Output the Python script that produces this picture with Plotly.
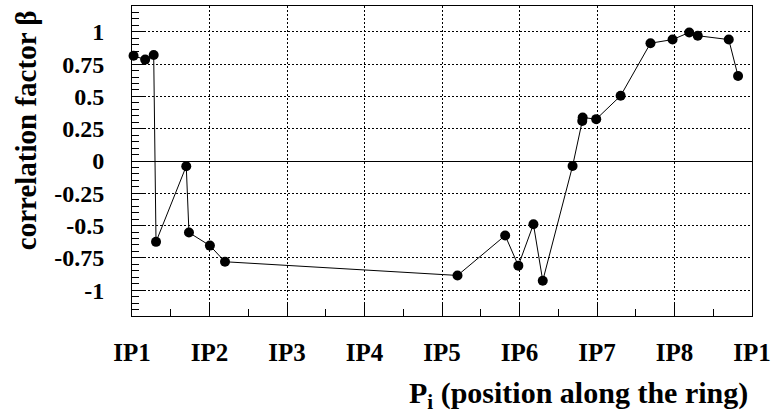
import plotly.graph_objects as go

# Data
position = [0.02, 0.17, 0.28, 0.31, 0.70, 0.735, 1.005, 1.20, 4.20, 4.815, 4.985,
            5.18, 5.30, 5.685, 5.81, 5.815, 5.99, 6.305, 6.69, 6.975, 7.19, 7.30,
            7.70, 7.82]
beta = [0.815, 0.785, 0.82, -0.626, -0.04, -0.554, -0.655, -0.78, -0.886, -0.577,
        -0.81, -0.49, -0.927, -0.039, 0.31, 0.337, 0.324, 0.505, 0.912, 0.94,
        0.995, 0.97, 0.94, 0.658]

x_tick_vals = [0, 1, 2, 3, 4, 5, 6, 7, 8]
x_tick_text = ["IP1", "IP2", "IP3", "IP4", "IP5", "IP6", "IP7", "IP8", "IP1"]
y_tick_vals = [1, 0.75, 0.5, 0.25, 0, -0.25, -0.5, -0.75, -1]
y_tick_text = ["1", "0.75", "0.5", "0.25", "0", "-0.25", "-0.5", "-0.75", "-1"]

FONT = "Liberation Serif"

fig = go.Figure()
fig.add_trace(go.Scatter(
    x=position, y=beta, mode="lines+markers",
    line=dict(color="black", width=1),
    marker=dict(color="black", size=10),
    cliponaxis=False, showlegend=False,
))

axis_common = dict(
    showline=True, linecolor="black", linewidth=1, mirror=True,
    ticks="inside", tickcolor="black", ticklen=14, tickwidth=1,
    showgrid=True, gridcolor="black", gridwidth=1, griddash="2px,2px",
)

fig.update_xaxes(
    range=[0, 8], tickmode="array", tickvals=x_tick_vals, ticktext=x_tick_text,
    zeroline=False, ticklabelstandoff=14,
    tickfont=dict(family=FONT, size=25, color="black", weight="bold"),
    minor=dict(ticks="inside", ticklen=7, tickcolor="black", tickmode="linear",
               tick0=0, dtick=0.5, showgrid=False),
    **axis_common,
)
fig.update_yaxes(
    range=[-1.2, 1.2], tickmode="array", tickvals=y_tick_vals, ticktext=y_tick_text,
    zeroline=True, zerolinecolor="black", zerolinewidth=1, ticklabelstandoff=22,
    tickfont=dict(family=FONT, size=24, color="black", weight="bold"),
    minor=dict(ticks="inside", ticklen=7, tickcolor="black", tickmode="linear",
               tick0=0, dtick=0.05, showgrid=False),
    **axis_common,
)

fig.add_annotation(
    text="correlation factor β", xref="paper", yref="paper",
    x=-0.171, y=0.993, xanchor="center", yanchor="top", textangle=-90,
    showarrow=False, font=dict(family=FONT, size=29, color="black", weight="bold"),
)
fig.add_annotation(
    text="P<sub>i</sub> (position along the ring)", xref="paper", yref="paper",
    x=0.9968, y=-0.2548, xanchor="right", yanchor="middle",
    showarrow=False, font=dict(family=FONT, size=30, color="black", weight="bold"),
)

fig.update_layout(
    width=772, height=418,
    margin=dict(l=132, r=20, t=6, b=102, autoexpand=False),
    paper_bgcolor="white", plot_bgcolor="white",
)

fig.write_html("out.html", config={"displayModeBar": False},
               post_script="document.body.style.margin='0';")
